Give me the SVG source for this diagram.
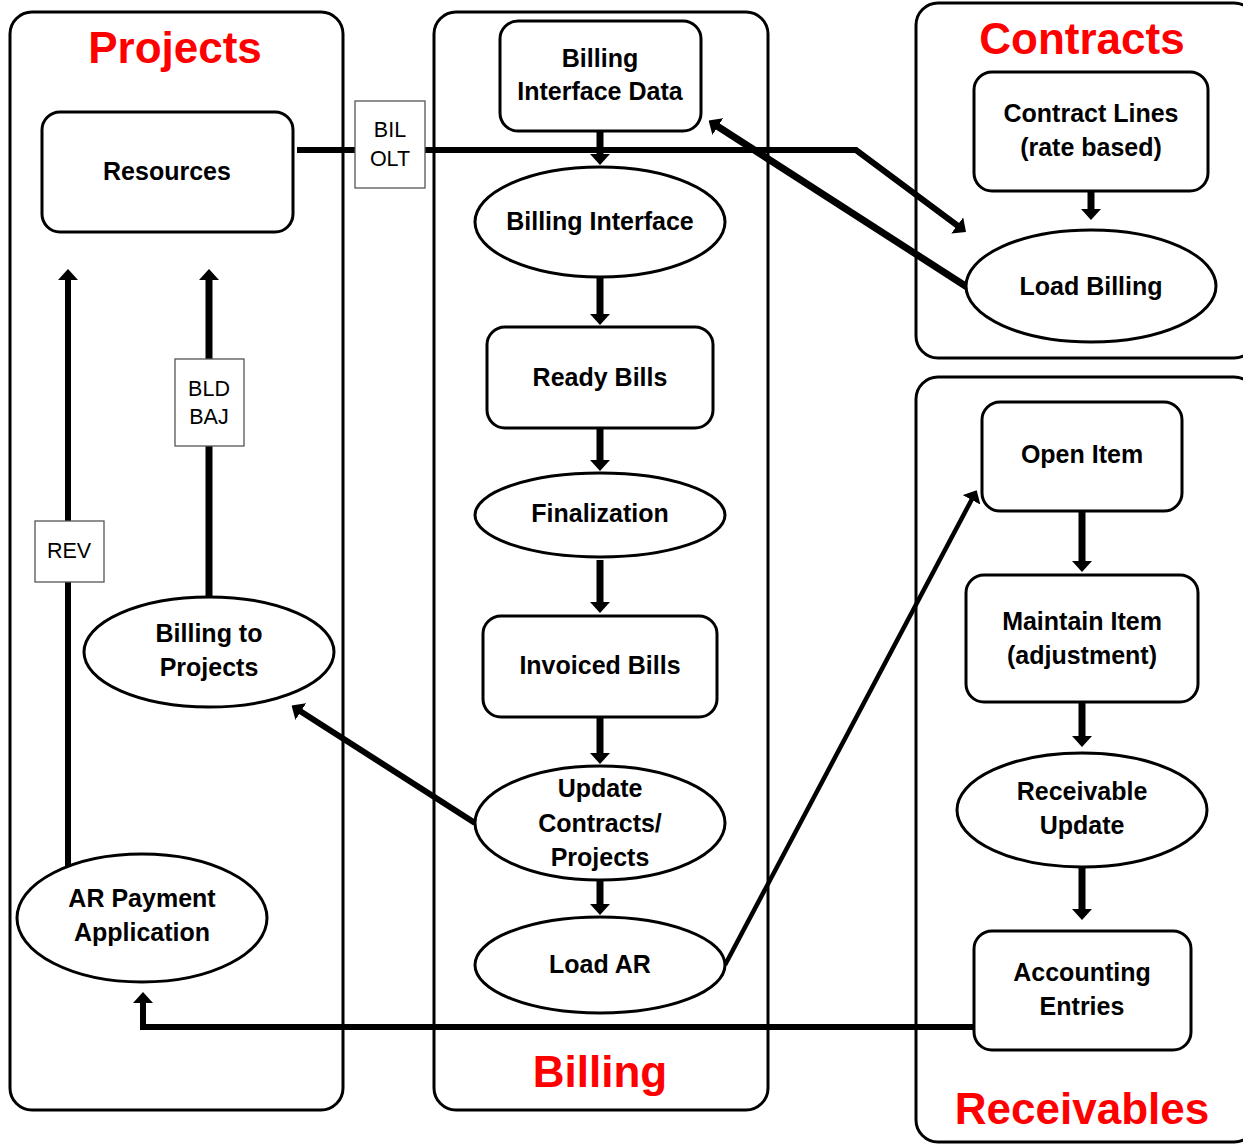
<svg xmlns="http://www.w3.org/2000/svg" width="1243" height="1145" viewBox="0 0 1243 1145">
  <defs>
    <style>
      .lane { fill: none; stroke: #000; stroke-width: 3; }
      .node { fill: #fff; stroke: #000; stroke-width: 3; }
      .tag { fill: #fff; stroke: #555; stroke-width: 1.3; }
      .title { font-family: "Liberation Sans", Arial, sans-serif; font-weight: bold; font-size: 44px; fill: #ff0000; text-anchor: middle; }
      .lbl { font-family: "Liberation Sans", Arial, sans-serif; font-weight: bold; font-size: 25px; fill: #000; text-anchor: middle; }
      .tagtxt { font-family: "Liberation Sans", Arial, sans-serif; font-size: 21.5px; fill: #000; text-anchor: middle; }
      .flow { fill: none; stroke: #000; stroke-width: 7; marker-end: url(#head); }
      .link { fill: none; stroke: #000; stroke-width: 6; marker-end: url(#head); }
      .thin { stroke-width: 4.5; }
      .heavy { stroke-width: 7; }
    </style>
    <marker id="head" viewBox="0 0 11 20" refX="1" refY="10" markerWidth="11" markerHeight="20" markerUnits="userSpaceOnUse" orient="auto">
      <path d="M0,0 L11,10 L0,20 z" fill="#000"/>
    </marker>
  </defs>
  <rect width="1243" height="1145" fill="#fff"/>

  <!-- swimlanes -->
  <g id="lanes">
    <g id="lane-projects">
      <rect class="lane" x="10" y="12" width="333" height="1098" rx="22"/>
      <text class="title" x="175" y="63">Projects</text>
    </g>
    <g id="lane-billing">
      <rect class="lane" x="434" y="12" width="334" height="1098" rx="22"/>
      <text class="title" x="600" y="1087">Billing</text>
    </g>
    <g id="lane-contracts">
      <rect class="lane" x="916" y="3" width="340" height="355" rx="22"/>
      <text class="title" x="1082" y="54">Contracts</text>
    </g>
    <g id="lane-receivables">
      <rect class="lane" x="916" y="377" width="340" height="765" rx="22"/>
      <text class="title" x="1082" y="1124">Receivables</text>
    </g>
  </g>

  <!-- connectors -->
  <g id="connectors">
    <!-- billing flow -->
    <path class="flow" d="M600,132 V155"/>
    <path class="flow" d="M600,278 V315"/>
    <path class="flow" d="M600,429 V461"/>
    <path class="flow" d="M600,560 V603"/>
    <path class="flow" d="M600,718 V754"/>
    <path class="flow" d="M600,880 V905"/>
    <!-- contracts flow -->
    <path class="flow" d="M1091,192 V210"/>
    <!-- receivables flow -->
    <path class="flow" d="M1082,512 V562"/>
    <path class="flow" d="M1082,703 V737"/>
    <path class="flow" d="M1082,867 V910"/>
    <!-- cross-lane links -->
    <path class="link" d="M297,150 H856 L958,226"/>
    <path class="link heavy" d="M967,287 L717,126"/>
    <path class="link" d="M475,823 L300,711"/>
    <path class="link thin" d="M725,965 L972,499"/>
    <path class="link" d="M974,1027 H143 V1002"/>
    <path class="link" d="M68,866 V279"/>
    <path class="link heavy" d="M209,598 V279"/>
  </g>

  <!-- Projects lane nodes -->
  <g id="resources">
    <rect class="node" x="42" y="112" width="251" height="120" rx="18"/>
    <text class="lbl" x="167" y="180">Resources</text>
  </g>
  <g id="billing-to-projects">
    <ellipse class="node" cx="209" cy="652" rx="125" ry="55"/>
    <text class="lbl" x="209" y="642">Billing to</text>
    <text class="lbl" x="209" y="676">Projects</text>
  </g>
  <g id="ar-payment-application">
    <ellipse class="node" cx="142" cy="918" rx="125" ry="64"/>
    <text class="lbl" x="142" y="907">AR Payment</text>
    <text class="lbl" x="142" y="941">Application</text>
  </g>

  <!-- Billing lane nodes -->
  <g id="billing-interface-data">
    <rect class="node" x="500" y="21" width="201" height="110" rx="18"/>
    <text class="lbl" x="600" y="67">Billing</text>
    <text class="lbl" x="600" y="100">Interface Data</text>
  </g>
  <g id="billing-interface">
    <ellipse class="node" cx="600" cy="222" rx="125" ry="55"/>
    <text class="lbl" x="600" y="230">Billing Interface</text>
  </g>
  <g id="ready-bills">
    <rect class="node" x="487" y="327" width="226" height="101" rx="18"/>
    <text class="lbl" x="600" y="386">Ready Bills</text>
  </g>
  <g id="finalization">
    <ellipse class="node" cx="600" cy="515" rx="125" ry="42"/>
    <text class="lbl" x="600" y="522">Finalization</text>
  </g>
  <g id="invoiced-bills">
    <rect class="node" x="483" y="616" width="234" height="101" rx="18"/>
    <text class="lbl" x="600" y="674">Invoiced Bills</text>
  </g>
  <g id="update-contracts-projects">
    <ellipse class="node" cx="600" cy="823" rx="125" ry="57"/>
    <text class="lbl" x="600" y="797">Update</text>
    <text class="lbl" x="600" y="832">Contracts/</text>
    <text class="lbl" x="600" y="866">Projects</text>
  </g>
  <g id="load-ar">
    <ellipse class="node" cx="600" cy="965" rx="125" ry="48"/>
    <text class="lbl" x="600" y="973">Load AR</text>
  </g>

  <!-- Contracts lane nodes -->
  <g id="contract-lines">
    <rect class="node" x="974" y="72" width="234" height="119" rx="18"/>
    <text class="lbl" x="1091" y="122">Contract Lines</text>
    <text class="lbl" x="1091" y="156">(rate based)</text>
  </g>
  <g id="load-billing">
    <ellipse class="node" cx="1091" cy="286" rx="125" ry="56"/>
    <text class="lbl" x="1091" y="295">Load Billing</text>
  </g>

  <!-- Receivables lane nodes -->
  <g id="open-item">
    <rect class="node" x="982" y="402" width="200" height="109" rx="18"/>
    <text class="lbl" x="1082" y="463">Open Item</text>
  </g>
  <g id="maintain-item">
    <rect class="node" x="966" y="575" width="232" height="127" rx="18"/>
    <text class="lbl" x="1082" y="630">Maintain Item</text>
    <text class="lbl" x="1082" y="664">(adjustment)</text>
  </g>
  <g id="receivable-update">
    <ellipse class="node" cx="1082" cy="810" rx="125" ry="57"/>
    <text class="lbl" x="1082" y="800">Receivable</text>
    <text class="lbl" x="1082" y="834">Update</text>
  </g>
  <g id="accounting-entries">
    <rect class="node" x="974" y="931" width="217" height="119" rx="18"/>
    <text class="lbl" x="1082" y="981">Accounting</text>
    <text class="lbl" x="1082" y="1015">Entries</text>
  </g>

  <!-- transaction-type tags on the links -->
  <g id="tag-bil-olt">
    <rect class="tag" x="355" y="101" width="70" height="87"/>
    <text class="tagtxt" x="390" y="137">BIL</text>
    <text class="tagtxt" x="390" y="166">OLT</text>
  </g>
  <g id="tag-bld-baj">
    <rect class="tag" x="175" y="359" width="69" height="87"/>
    <text class="tagtxt" x="209" y="396">BLD</text>
    <text class="tagtxt" x="209" y="424">BAJ</text>
  </g>
  <g id="tag-rev">
    <rect class="tag" x="35" y="521" width="69" height="61"/>
    <text class="tagtxt" x="69" y="558">REV</text>
  </g>
</svg>
